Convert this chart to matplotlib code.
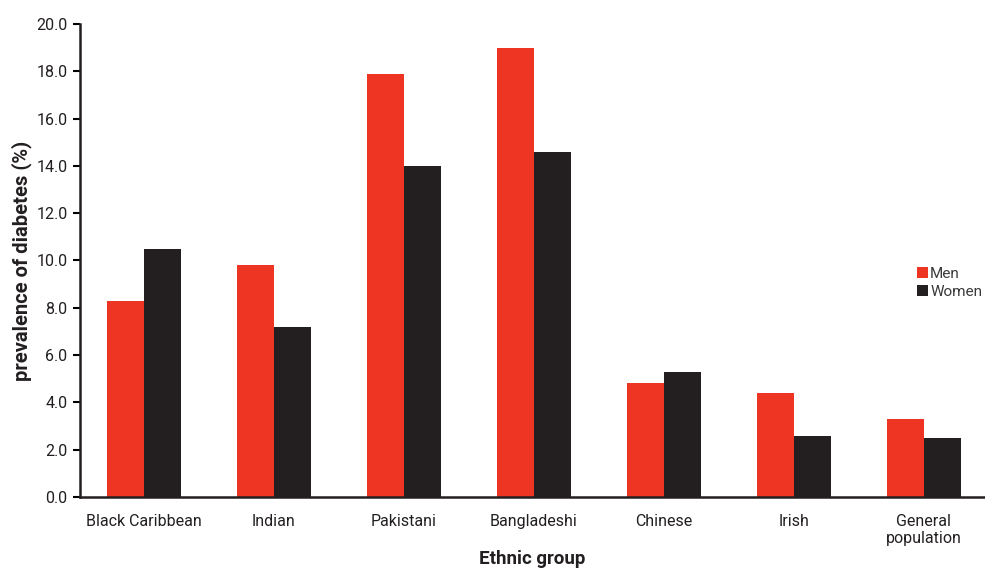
import matplotlib
matplotlib.use("Agg")
import matplotlib.pyplot as plt
import numpy as np

# data
groups = ["Black Caribbean", "Indian", "Pakistani", "Bangladeshi",
          "Chinese", "Irish", "General\npopulation"]
men = [8.3, 9.8, 17.9, 19.0, 4.8, 4.4, 3.3]
women = [10.5, 7.2, 14.0, 14.6, 5.3, 2.6, 2.5]
yticks = [0, 2, 4, 6, 8, 10, 12, 14, 16, 18, 20]

plt.rcParams['font.family'] = ['Roboto', 'DejaVu Sans']

fig = plt.figure(figsize=(9.85, 5.7), dpi=100)
ax = fig.add_axes([0.0812, 0.128, 0.9188, 0.83])

x = np.arange(len(groups))
w = 0.285
ax.bar(x - w / 2, men, w, color="#EE3524", label="Men")
ax.bar(x + w / 2, women, w, color="#231F20", label="Women")

ax.set_xlim(-0.49, 6.47)
ax.set_ylim(0, 20)
ax.set_yticks(yticks)
ax.set_yticklabels(["%.1f" % v for v in yticks], fontsize=11.5, color="#231F20")
ax.set_xticks(x)
ax.set_xticklabels(groups, fontsize=11.5, color="#231F20", linespacing=1.15)
ax.tick_params(axis="x", length=0, pad=12)
ax.tick_params(axis="y", length=5, width=1.5, direction="out", pad=4)

for s in ["top", "right"]:
    ax.spines[s].set_visible(False)
ax.spines["left"].set_linewidth(1.8)
ax.spines["bottom"].set_linewidth(1.8)
ax.spines["left"].set_color("#231F20")
ax.spines["bottom"].set_color("#231F20")

ax.set_ylabel("prevalence of diabetes (%)", fontsize=14.5, fontweight="bold",
              color="#231F20", labelpad=3)
ax.set_xlabel("Ethnic group", fontsize=13.5, fontweight="bold",
              color="#231F20", labelpad=3)

leg = fig.legend(loc="upper left", bbox_to_anchor=(0.925, 0.543), frameon=False,
                 fontsize=11, handlelength=0.7, handleheight=0.7,
                 handletextpad=0.15, labelspacing=0.3, borderaxespad=0)
for t in leg.get_texts():
    t.set_color("#3a3a3a")

fig.savefig("out.png", dpi=100)
